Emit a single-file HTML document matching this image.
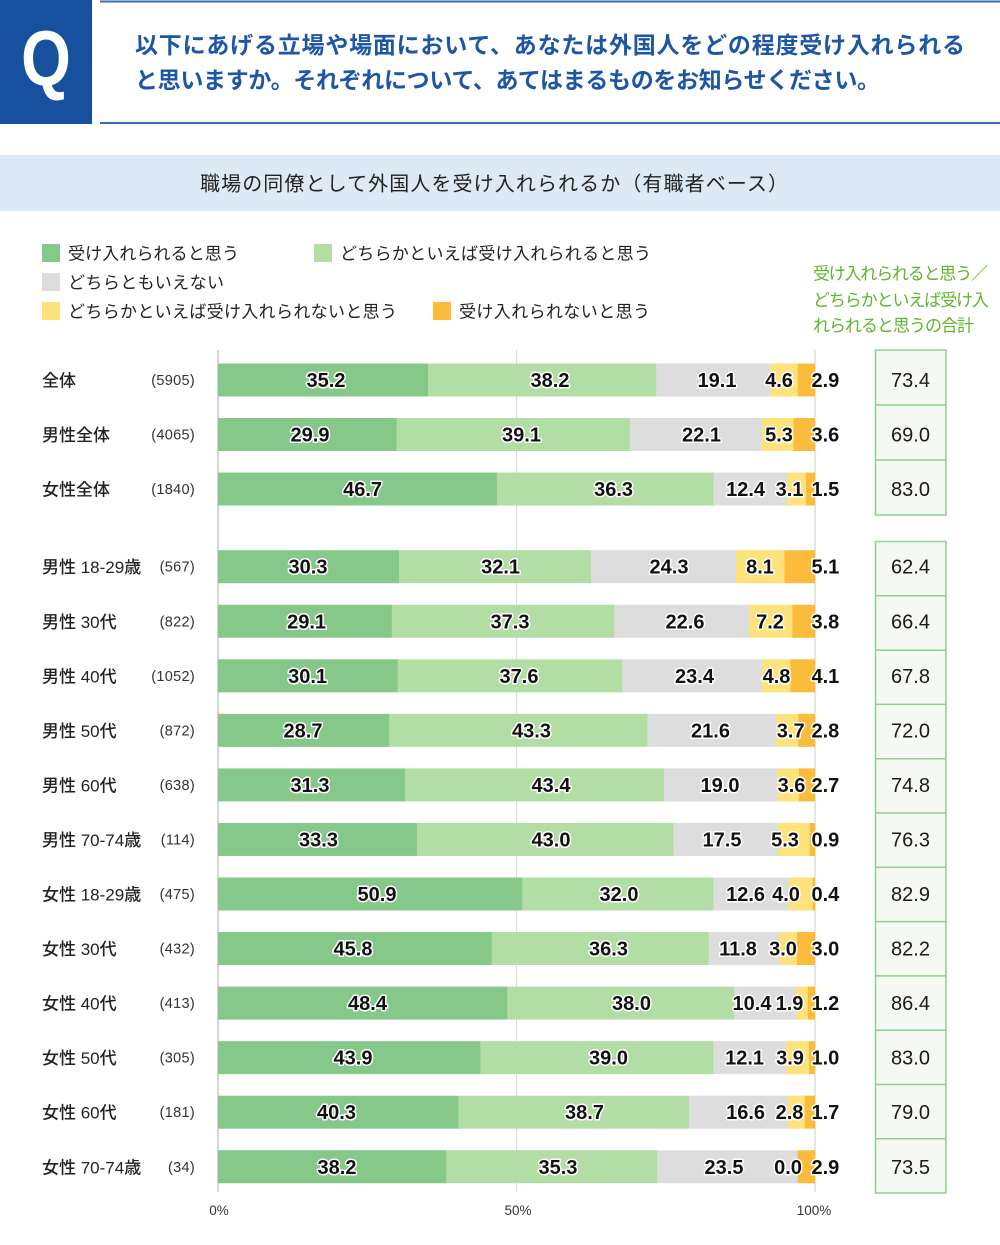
<!DOCTYPE html>
<html><head><meta charset="utf-8">
<style>
html,body{margin:0;padding:0;background:#fff;}
svg{display:block;}
.jp{font-family:"Liberation Sans","Noto Sans CJK JP",sans-serif;}
.bl{font-family:"Liberation Sans",sans-serif;font-weight:bold;font-size:20px;fill:#111;stroke:#fff;stroke-width:3px;paint-order:stroke;stroke-linejoin:round;}
</style></head>
<body>
<svg width="1000" height="1245" viewBox="0 0 1000 1245" xmlns="http://www.w3.org/2000/svg">
<!-- header -->
<rect x="0" y="0" width="92" height="124" fill="#17509e"/>
<text x="0" y="0" transform="translate(46 85) scale(0.82 1)" text-anchor="middle" font-family="Liberation Sans, sans-serif" font-size="78" font-weight="bold" fill="#fff">Q</text>
<rect x="100" y="0.5" width="900" height="2" fill="#3a6cb2"/>
<rect x="100" y="122" width="900" height="2" fill="#3a6cb2"/>
<text class="jp" x="135" y="53" font-size="23" font-weight="bold" fill="#1d56a6" textLength="830" lengthAdjust="spacing">以下にあげる立場や場面において、あなたは外国人をどの程度受け入れられる</text>
<text class="jp" x="135" y="88" font-size="23" font-weight="bold" fill="#1d56a6" textLength="745" lengthAdjust="spacing">と思いますか。それぞれについて、あてはまるものをお知らせください。</text>

<!-- subtitle band -->
<rect x="0" y="155" width="1000" height="56" fill="#dde9f5"/>
<text class="jp" x="200" y="190.5" font-size="20" fill="#222" textLength="588" lengthAdjust="spacing">職場の同僚として外国人を受け入れられるか（有職者ベース）</text>

<!-- legend -->
<rect x="42" y="244" width="18" height="18" fill="#86c78a"/>
<text class="jp" x="68" y="259.5" font-size="17" fill="#222" textLength="171" lengthAdjust="spacing">受け入れられると思う</text>
<rect x="314" y="244" width="18" height="18" fill="#b2dea6"/>
<text class="jp" x="340" y="259.5" font-size="17" fill="#222" textLength="311" lengthAdjust="spacing">どちらかといえば受け入れられると思う</text>
<rect x="42" y="273" width="18" height="18" fill="#dddddd"/>
<text class="jp" x="68" y="288.5" font-size="17" fill="#222" textLength="156" lengthAdjust="spacing">どちらともいえない</text>
<rect x="42" y="302" width="18" height="18" fill="#fee27c"/>
<text class="jp" x="68" y="317.5" font-size="17" fill="#222" textLength="329" lengthAdjust="spacing">どちらかといえば受け入れられないと思う</text>
<rect x="433" y="302" width="18" height="18" fill="#fbbc3c"/>
<text class="jp" x="459" y="317.5" font-size="17" fill="#222" textLength="191" lengthAdjust="spacing">受け入れられないと思う</text>

<!-- green note -->
<text class="jp" x="813" y="279.5" font-size="17" fill="#5db52e" textLength="175" lengthAdjust="spacing">受け入れられると思う／</text>
<text class="jp" x="813" y="306" font-size="17" fill="#5db52e" textLength="176" lengthAdjust="spacing">どちらかといえば受け入</text>
<text class="jp" x="813" y="331.5" font-size="17" fill="#5db52e" textLength="161" lengthAdjust="spacing">れられると思うの合計</text>

<!-- gridlines -->
<line x1="516.5" y1="350" x2="516.5" y2="1192" stroke="#dcdcdc" stroke-width="1"/>
<line x1="815" y1="350" x2="815" y2="1192" stroke="#cfcfcf" stroke-width="1"/>
<line x1="218" y1="350" x2="218" y2="1192" stroke="#c8c8c8" stroke-width="1.5"/>

<!-- right boxes -->
<rect x="875.5" y="350" width="70.5" height="165" fill="#f6f8f3" stroke="#8fd18f" stroke-width="1.5"/>
<line x1="875.5" y1="405" x2="946" y2="405" stroke="#8fd18f" stroke-width="1.5"/>
<line x1="875.5" y1="460" x2="946" y2="460" stroke="#8fd18f" stroke-width="1.5"/>
<rect x="875.5" y="541.5" width="70.5" height="651.5" fill="#f6f8f3" stroke="#8fd18f" stroke-width="1.5"/>
<g stroke="#8fd18f" stroke-width="1.5">
<line x1="875.5" y1="595.8" x2="946" y2="595.8"/>
<line x1="875.5" y1="650.1" x2="946" y2="650.1"/>
<line x1="875.5" y1="704.4" x2="946" y2="704.4"/>
<line x1="875.5" y1="758.7" x2="946" y2="758.7"/>
<line x1="875.5" y1="813" x2="946" y2="813"/>
<line x1="875.5" y1="867.3" x2="946" y2="867.3"/>
<line x1="875.5" y1="921.6" x2="946" y2="921.6"/>
<line x1="875.5" y1="975.9" x2="946" y2="975.9"/>
<line x1="875.5" y1="1030.2" x2="946" y2="1030.2"/>
<line x1="875.5" y1="1084.5" x2="946" y2="1084.5"/>
<line x1="875.5" y1="1138.8" x2="946" y2="1138.8"/>
</g>

<g id="bars"></g>

<!-- axis labels -->
<text x="219" y="1215" text-anchor="middle" font-family="Liberation Sans, sans-serif" font-size="13.5" fill="#333">0%</text>
<text x="518" y="1215" text-anchor="middle" font-family="Liberation Sans, sans-serif" font-size="13.5" fill="#333">50%</text>
<text x="814" y="1215" text-anchor="middle" font-family="Liberation Sans, sans-serif" font-size="13.5" fill="#333">100%</text>
</svg>
<script>
(function(){
var rows=[
["全体","(5905)",[35.2,38.2,19.1,4.6,2.9],"73.4"],
["男性全体","(4065)",[29.9,39.1,22.1,5.3,3.6],"69.0"],
["女性全体","(1840)",[46.7,36.3,12.4,3.1,1.5],"83.0"],
["男性 18-29歳","(567)",[30.3,32.1,24.3,8.1,5.1],"62.4"],
["男性 30代","(822)",[29.1,37.3,22.6,7.2,3.8],"66.4"],
["男性 40代","(1052)",[30.1,37.6,23.4,4.8,4.1],"67.8"],
["男性 50代","(872)",[28.7,43.3,21.6,3.7,2.8],"72.0"],
["男性 60代","(638)",[31.3,43.4,19.0,3.6,2.7],"74.8"],
["男性 70-74歳","(114)",[33.3,43.0,17.5,5.3,0.9],"76.3"],
["女性 18-29歳","(475)",[50.9,32.0,12.6,4.0,0.4],"82.9"],
["女性 30代","(432)",[45.8,36.3,11.8,3.0,3.0],"82.2"],
["女性 40代","(413)",[48.4,38.0,10.4,1.9,1.2],"86.4"],
["女性 50代","(305)",[43.9,39.0,12.1,3.9,1.0],"83.0"],
["女性 60代","(181)",[40.3,38.7,16.6,2.8,1.7],"79.0"],
["女性 70-74歳","(34)",[38.2,35.3,23.5,0.0,2.9],"73.5"]
];
var L1=[326,310,362.6,308,306.6,307.6,303,310,318.5,377,353,367.5,353,336.5,337];
var L2=[550,521.5,613.6,500.6,510,519,531.5,551,551,619,608.5,631.5,608.5,584.5,558];
var L3=[717,701.5,745.6,669,685,694.5,710.5,720,722,745.6,738,752,744.6,745.6,724];
var L4=[779,779,789.5,760,770,776.5,790.7,791.5,785,786,783,789.5,790,789.5,788];
var cols=["#86c78a","#b2dea6","#dddddd","#fee27c","#fbbc3c"];
var x0=218,W=597,h=33;
var s="";
for(var i=0;i<rows.length;i++){
 var r=rows[i];
 var c=i<3?380+54.5*i:566.7+54.55*(i-3);
 var tot=0;r[2].forEach(function(v){tot+=v;});
 var x=x0;
 for(var k=0;k<5;k++){
  var w=r[2][k]/tot*W;
  if(w>0) s+='<rect x="'+x.toFixed(2)+'" y="'+(c-h/2).toFixed(2)+'" width="'+(w+0.3).toFixed(2)+'" height="'+h+'" fill="'+cols[k]+'"/>';
  x+=w;
 }
 var yb=(c+7).toFixed(1);
 var v=r[2].map(function(n){return n.toFixed(1);});
 s+='<text class="bl" x="'+L1[i]+'" y="'+yb+'" text-anchor="middle">'+v[0]+'</text>';
 s+='<text class="bl" x="'+L2[i]+'" y="'+yb+'" text-anchor="middle">'+v[1]+'</text>';
 s+='<text class="bl" x="'+L3[i]+'" y="'+yb+'" text-anchor="middle">'+v[2]+'</text>';
 s+='<text class="bl" x="'+L4[i]+'" y="'+yb+'" text-anchor="middle">'+v[3]+'</text>';
 s+='<text class="bl" x="811.5" y="'+yb+'">'+v[4]+'</text>';
 s+='<text x="42" y="'+(c+6.5).toFixed(1)+'" font-family="Liberation Sans, Noto Sans CJK JP, sans-serif" font-size="17" font-weight="500" fill="#222">'+r[0]+'</text>';
 s+='<text x="195" y="'+(c+5).toFixed(1)+'" text-anchor="end" font-family="Liberation Sans, sans-serif" font-size="14.5" fill="#333" letter-spacing="0.3">'+r[1]+'</text>';
 s+='<text x="910.5" y="'+(c+7).toFixed(1)+'" text-anchor="middle" font-family="Liberation Sans, sans-serif" font-size="20" fill="#1a1a1a">'+r[3]+'</text>';
}
document.getElementById("bars").innerHTML=s;
})();
</script>
</body></html>
